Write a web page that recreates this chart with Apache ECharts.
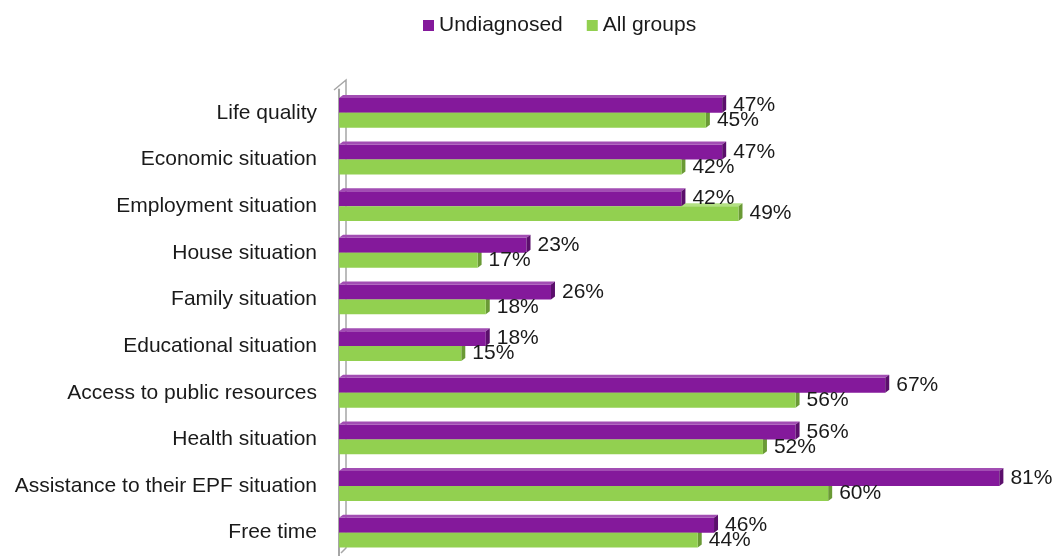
<!DOCTYPE html>
<html>
<head>
<meta charset="utf-8">
<script src="https://cdn.jsdelivr.net/npm/echarts@6/dist/echarts.min.js"></script>
<style>
html,body{margin:0;padding:0;background:#fff;}
#chart{width:1054px;height:556px;}
</style>
</head>
<body>
<div id="chart"></div>
<script>
const categories = [
  'Life quality',
  'Economic situation',
  'Employment situation',
  'House situation',
  'Family situation',
  'Educational situation',
  'Access to public resources',
  'Health situation',
  'Assistance to their EPF situation',
  'Free time'
];
const undiagnosed = [47, 47, 42, 23, 26, 18, 67, 56, 81, 46];
const allGroups   = [45, 42, 49, 17, 18, 15, 56, 52, 60, 44];
const seriesNames = ['Undiagnosed', 'All groups'];

const FONT = '"Liberation Sans", Arial, sans-serif';
const colors = {
  front: ['#84199B', '#92D050'],
  side:  ['#5B0F6C', '#6A9A35'],
  top:   ['#A24DB3', '#B3E083']
};
const CAT_GAP = 0.36;

function capRenderer(idx) {
  return function (params, api) {
    const v = api.value(0), c = api.value(1);
    const p0 = api.coord([0, c]);
    const p1 = api.coord([v, c]);
    const band = api.size([0, 1])[1];
    const bw = band * (1 - CAT_GAP) / 2;
    const yTop = idx === 0 ? p0[1] - bw : p0[1];
    const yBot = yTop + bw;
    const x0 = p0[0], x = p1[0];
    const dx = 4, dy = 3;
    return {
      type: 'group',
      children: [
        { type: 'polygon', shape: { points: [[x0, yTop], [x0 + dx, yTop - dy], [x + dx, yTop - dy], [x, yTop]] },
          style: { fill: colors.top[idx] } },
        { type: 'polygon', shape: { points: [[x, yTop], [x + dx, yTop - dy], [x + dx, yBot - dy], [x, yBot]] },
          style: { fill: colors.side[idx] } }
      ]
    };
  };
}

const chart = echarts.init(document.getElementById('chart'), null, { renderer: 'canvas' });
chart.setOption({
  animation: false,
  backgroundColor: '#fff',
  textStyle: { fontFamily: FONT },
  legend: {
    data: seriesNames,
    left: 418, top: 10,
    icon: 'rect', itemWidth: 11, itemHeight: 11, itemGap: 24,
    textStyle: { fontSize: 21, color: '#1a1a1a', fontFamily: FONT }
  },
  grid: { left: 339, top: 89.5, right: 0, height: 471, containLabel: false },
  xAxis: {
    type: 'value', min: 0, max: 87.7,
    show: false, splitLine: { show: false }
  },
  yAxis: {
    type: 'category', data: categories, inverse: true,
    offset: 5,
    axisLine: { show: true, lineStyle: { color: '#A6A6A6', width: 2 } },
    axisTick: { show: false },
    axisLabel: { fontSize: 21, color: '#1a1a1a', margin: 17, fontFamily: FONT }
  },
  graphic: [
    { type: 'polyline', silent: true, z: 0,
      shape: { points: [[334, 90], [346, 80], [346, 548], [341, 553]] },
      style: { stroke: '#A6A6A6', lineWidth: 1.5, fill: null } }
  ],
  series: [
    {
      name: seriesNames[0], type: 'bar', data: undiagnosed,
      barGap: '0%', barCategoryGap: (CAT_GAP * 100) + '%',
      itemStyle: { color: colors.front[0] },
      label: { show: true, position: 'right', distance: 11, formatter: '{c}%',
               fontSize: 21, color: '#1a1a1a', fontFamily: FONT },
      z: 2
    },
    {
      name: seriesNames[1], type: 'bar', data: allGroups,
      barGap: '0%', barCategoryGap: (CAT_GAP * 100) + '%',
      itemStyle: { color: colors.front[1] },
      label: { show: true, position: 'right', distance: 11, formatter: '{c}%',
               fontSize: 21, color: '#1a1a1a', fontFamily: FONT },
      z: 2
    },
    {
      name: 'cap0', type: 'custom', renderItem: capRenderer(0),
      data: undiagnosed.map((v, i) => [v, i]), encode: { x: 0, y: 1 }, z: 3, silent: true
    },
    {
      name: 'cap1', type: 'custom', renderItem: capRenderer(1),
      data: allGroups.map((v, i) => [v, i]), encode: { x: 0, y: 1 }, z: 1, silent: true
    }
  ]
});
</script>
</body>
</html>
